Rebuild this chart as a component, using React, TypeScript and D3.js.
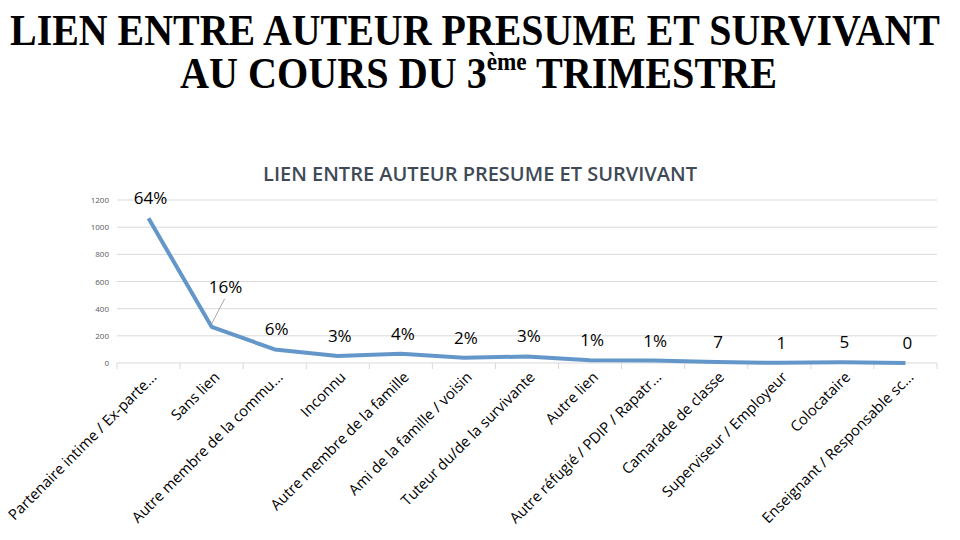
import React from 'react';
import * as d3 from 'd3';

const categories = [
  'Partenaire intime / Ex-parte...',
  'Sans lien',
  'Autre membre de la commu...',
  'Inconnu',
  'Autre membre de la famille',
  'Ami de la famille / voisin',
  'Tuteur du/de la survivante',
  'Autre lien',
  'Autre réfugié / PDIP / Rapatr...',
  'Camarade de classe',
  'Superviseur / Employeur',
  'Colocataire',
  'Enseignant / Responsable sc...',
];
const values = [1065, 266, 100, 52, 68, 38, 48, 20, 18, 7, 1, 5, 0];
const dataLabels = ['64%', '16%', '6%', '3%', '4%', '2%', '3%', '1%', '1%', '7', '1', '5', '0'];
const yTicks = [0, 200, 400, 600, 800, 1000, 1200];

const W = 960;
const H = 540;
const plot = { left: 117, right: 937, top: 200, bottom: 363 };
const chartFont = '"Open Sans", "Noto Sans", sans-serif';
const titleFont = '"Liberation Serif", "Times New Roman", serif';

export default function App() {
  const x = d3.scaleBand<string>().domain(categories).range([plot.left, plot.right]);
  const y = d3.scaleLinear().domain([0, 1200]).range([plot.bottom, plot.top]);
  const cx = (c: string) => (x(c) ?? 0) + x.bandwidth() / 2;

  const line = d3.line<number>()
    .x((_, i) => cx(categories[i]))
    .y(d => y(d));

  return (
    <svg width={W} height={H} style={{ position: 'absolute', left: 0, top: 0, background: '#fff' }}>
      {/* page title */}
      <text x={10} y={45} textLength={930} lengthAdjust="spacingAndGlyphs" fontFamily={titleFont} fontWeight="bold" fontSize={45} fill="#000">
        LIEN ENTRE AUTEUR PRESUME ET SURVIVANT
      </text>
      <text x={180} y={88} textLength={597} lengthAdjust="spacingAndGlyphs" fontFamily={titleFont} fontWeight="bold" fontSize={45} fill="#000">
        AU COURS DU 3<tspan fontSize={26} dy={-18}>ème</tspan><tspan dy={18}> TRIMESTRE</tspan>
      </text>

      {/* chart title */}
      <text x={480} y={181} textAnchor="middle" fontFamily={chartFont} fontWeight={600} fontSize={20} fill="#404a56">
        LIEN ENTRE AUTEUR PRESUME ET SURVIVANT
      </text>

      {/* grid + y axis labels */}
      {yTicks.map(t => (
        <g key={t}>
          <line x1={plot.left} x2={plot.right} y1={y(t)} y2={y(t)} stroke="#d9d9d9" strokeWidth={1} />
          <text x={109} y={y(t) + 3} textAnchor="end" fontFamily={chartFont} fontSize={8} fill="#595959">
            {t}
          </text>
        </g>
      ))}

      {/* category tick marks */}
      {d3.range(categories.length + 1).map(i => {
        const xx = plot.left + i * x.bandwidth();
        return <line key={i} x1={xx} x2={xx} y1={plot.bottom} y2={plot.bottom + 6} stroke="#d9d9d9" />;
      })}

      {/* category labels */}
      {categories.map(c => (
        <text
          key={c}
          transform={`translate(${cx(c) + 9},${plot.bottom + 15}) rotate(-45)`}
          textAnchor="end"
          fontFamily={chartFont}
          fontSize={14.8}
          fill="#000"
        >
          {c}
        </text>
      ))}

      {/* series */}
      <path d={line(values) ?? ''} fill="none" stroke="#6497c9" strokeWidth={4} strokeLinejoin="round" />

      {/* leader line for the 16% label */}
      <line x1={cx(categories[1])} y1={y(values[1]) - 3} x2={cx(categories[1]) + 13} y2={y(values[1]) - 28} stroke="#a6a6a6" strokeWidth={1} />

      {/* data labels */}
      {values.map((v, i) => {
        const leader = i === 1;
        return (
          <text
            key={i}
            x={cx(categories[i]) + (leader ? 14 : 2)}
            y={y(v) - (leader ? 34 : 14)}
            textAnchor="middle"
            fontFamily={chartFont}
            fontSize={17}
            fill="#000"
          >
            {dataLabels[i]}
          </text>
        );
      })}
    </svg>
  );
}
